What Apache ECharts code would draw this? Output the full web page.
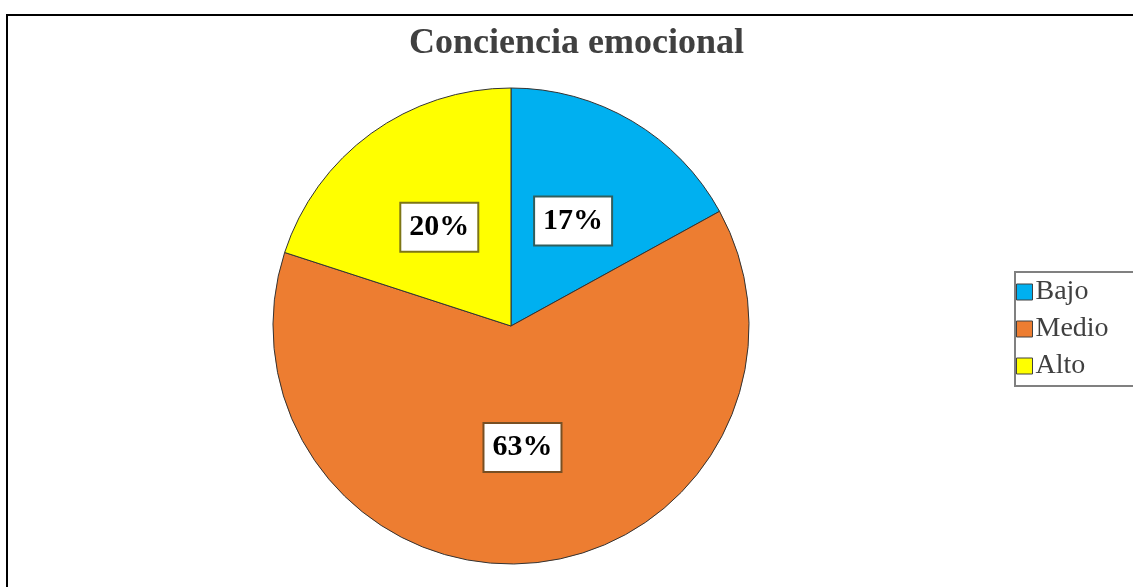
<!DOCTYPE html>
<html>
<head>
<meta charset="utf-8">
<script src="https://cdn.jsdelivr.net/npm/echarts@6/dist/echarts.min.js"></script>
<style>
  html, body { margin: 0; padding: 0; background: #fff; }
  #chart { width: 1133px; height: 587px; }
</style>
</head>
<body>
<div id="chart"></div>
<script>
// datos del gráfico
var categorias = ['Bajo', 'Medio', 'Alto']
var porcentajes = [17, 63, 20]
var colores = ['#00B0F0', '#ED7D31', '#FFFF00']

var data = categorias.map(function (nombre, i) {
    return {
        name: nombre,
        value: porcentajes[i],
        itemStyle: { color: colores[i] }
    }
})

var option = {
    backgroundColor: '#fff',
    animation: false,
    title: {
        text: 'Conciencia emocional',
        left: 404,
        top: 21,
        textStyle: {
            fontFamily: 'Liberation Serif',
            fontSize: 36,
            fontWeight: 'bold',
            color: '#404040'
        }
    },
    legend: {
        orient: 'vertical',
        left: 1015,
        top: 272,
        data: categorias,
        itemWidth: 16,
        itemHeight: 16,
        itemGap: 9,
        padding: [6, 60, 6, 1],
        borderColor: '#808080',
        borderWidth: 2,
        icon: 'rect',
        itemStyle: { borderColor: '#404040', borderWidth: 1 },
        textStyle: {
            fontFamily: 'Liberation Serif',
            fontSize: 28,
            color: '#404040',
            padding: [0, 0, 0, -2]
        }
    },
    graphic: [{
        type: 'rect',
        shape: { x: 7, y: 15, width: 1200, height: 700 },
        style: { fill: 'none', stroke: '#000', lineWidth: 2 },
        z: 10
    }],
    series: [{
        type: 'pie',
        center: [511, 326],
        radius: 238,
        startAngle: 90,
        clockwise: true,
        itemStyle: { borderColor: '#333', borderWidth: 1 },
        label: {
            show: true,
            position: 'inside',
            formatter: '{c}%',
            fontFamily: 'Liberation Serif',
            fontSize: 30,
            fontWeight: 'bold',
            color: '#000',
            backgroundColor: '#fff',
            borderColor: 'rgba(70,60,30,0.7)',
            borderWidth: 2,
            padding: [9, 8, 8, 8]
        },
        labelLine: { show: false },
        data: data
    }]
}

echarts.init(document.getElementById('chart')).setOption(option)
</script>
</body>
</html>
